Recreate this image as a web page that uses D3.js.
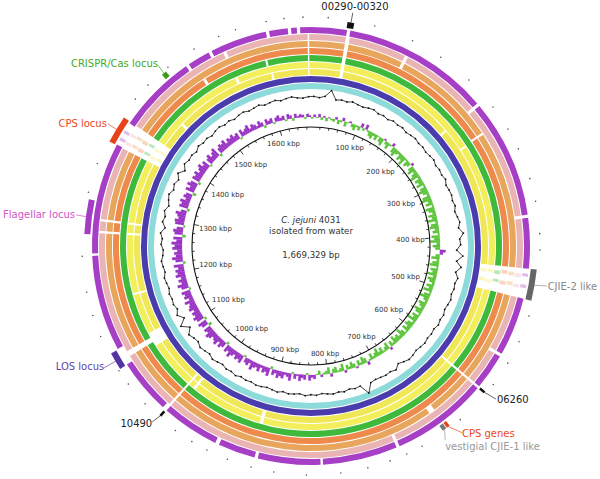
<!DOCTYPE html>
<html><head><meta charset="utf-8">
<script src="https://cdn.jsdelivr.net/npm/d3@7"></script>
<style>
body{margin:0;background:#fff}
svg{display:block}
text{font-family:"DejaVu Sans",sans-serif}
</style>
</head><body>
<svg id="chart" width="600" height="479"></svg>
<script>
// ---------------- DATA ----------------
const genomeLength = 1669329;
const genomeName = "C. jejuni 4031";
const subtitle = "isolated from water";
const sizeLabel = "1,669,329 bp";
const tickStepKbp = 100;
const minorTickStepKbp = 20;
const tickLabels = ["100 kbp","200 kbp","300 kbp","400 kbp","500 kbp","600 kbp","700 kbp","800 kbp","900 kbp","1000 kbp","1100 kbp","1200 kbp","1300 kbp","1400 kbp","1500 kbp","1600 kbp"];

// BLAST rings, inner -> outer
const ringColors = ["#8cdada","#4b3cae","#efe756","#f3ef5c","#3fb93b","#ef8a4d","#e8a65d","#eab4b4","#a63fc6"];
// regions without hits (kbp)
const ringGaps = [
  [],
  [],
  [[44,49],[228,231],[445,482],[602,605],[905,910],[1015,1019],[1026,1029],[1100,1121],[1180,1183],[1268,1271],[1283,1286],[1379,1412],[1451,1455],[1609,1612],[1665,1667]],
  [[44,49],[264,267],[445,482],[602,605],[905,910],[1015,1019],[1026,1029],[1100,1121],[1180,1183],[1268,1271],[1283,1286],[1379,1412],[1556,1560],[1665,1667]],
  [[44,49],[445,482],[602,605],[1026,1029],[1107,1114],[1379,1412],[1605,1608],[1665,1667]],
  [[44,49],[262,265],[445,482],[602,605],[1026,1029],[1107,1114],[1268,1271],[1283,1286],[1379,1412],[1516,1520],[1665,1667]],
  [[44,49],[122,126],[262,265],[445,482],[602,605],[663,671],[1026,1029],[1107,1114],[1268,1271],[1283,1286],[1379,1412],[1665,1667]],
  [[44,49],[122,126],[229,233],[379,383],[445,482],[554,558],[602,605],[724,728],[1026,1029],[1107,1114],[1268,1271],[1283,1286],[1379,1412],[1556,1560],[1665,1667]],
  [[44,48],[229,233],[379,383],[445,482],[554,558],[602,605],[724,728],[820,823],[900,904],[950,955],[1026,1032],[1100,1122],[1240,1243],[1380,1410],[1508,1512],[1540,1544],[1614,1618],[1641,1645],[1652,1656]]
];
// weak hits inside gaps (kbp)
const ringFaint = [
  [],[],
  [[451,456],[464,470],[1386,1390],[1398,1402]],
  [[451,456],[466,471],[1385,1389],[1397,1401]],
  [[452,457],[464,468],[1386,1390],[1399,1403]],
  [[450,455],[465,470],[1271,1283],[1385,1390],[1397,1402]],
  [[451,456],[464,469],[1271,1283],[1386,1390],[1398,1402]],
  [[452,457],[466,470],[1271,1283],[1385,1389],[1397,1401]],
  [[451,455],[465,469],[1386,1390],[1396,1400]]
];

// GC content (%) in 10 kbp windows
const gcContent = [
 31.0,30.2,31.5,36.5,29.8,30.6,30.1,31.2,30.4,29.9,
 30.8,31.3,30.0,30.6,29.7,31.0,30.3,30.9,29.8,30.5,
 31.1,30.2,30.7,29.9,30.6,31.2,30.0,30.8,30.3,31.4,
 29.8,30.5,30.9,30.1,31.0,29.6,30.7,31.8,30.2,33.5,
 30.4,31.0,28.0,33.0,28.5,32.5,29.0,31.5,30.2,30.8,
 30.0,31.1,30.4,29.7,30.9,30.3,31.2,29.9,30.6,30.1,
 31.0,30.4,29.8,30.7,31.3,30.0,28.5,31.5,30.2,30.8,
 30.3,29.9,30.6,37.5,30.1,30.7,29.8,30.9,30.2,31.0,
 30.4,29.7,30.8,30.3,31.1,29.9,30.5,30.9,30.0,31.2,
 30.4,29.8,30.6,31.0,30.1,30.7,29.9,31.3,30.2,30.8,
 29.6,30.5,31.4,29.8,30.6,31.5,29.7,30.4,32.0,28.0,
 33.5,28.0,31.8,29.5,30.9,30.2,31.0,29.8,30.6,31.3,
 29.9,30.7,31.5,30.1,29.6,31.2,30.4,32.0,29.0,31.6,
 30.3,31.8,29.5,31.0,32.2,30.0,31.4,29.7,32.5,28.8,
 31.9,30.6,31.2,29.9,31.7,30.5,31.1,29.8,30.9,31.5,
 30.2,31.0,29.7,30.8,31.3,30.1,30.7,31.4,29.9,30.6,
 31.2,30.0,30.9,31.5,30.3,29.8,30.8
];
const gcWindow = 10000;
const gcMean = 30.5;

// GC skew in 5 kbp windows
const gcSkew = [
 0.02,-0.03,0.01,-0.04,0.03,-0.02,0.04,-0.01,0.02,0.03,
 -0.03,0.05,0.02,-0.04,0.06,0.01,-0.02,0.04,0.07,0.02,
 0.05,-0.05,0.03,-0.06,0.02,0.06,0.08,0.03,0.07,0.01,
 0.06,0.09,-0.02,0.04,0.08,0.02,-0.04,0.07,0.10,0.05,
 0.03,0.09,0.06,0.11,0.02,0.08,0.05,-0.03,0.07,0.10,
 0.04,0.08,0.12,0.03,0.09,0.06,0.10,0.02,0.08,0.11,
 0.07,0.03,0.10,0.12,0.05,0.09,0.02,0.11,0.08,0.04,
 0.10,0.06,0.12,0.03,0.09,0.11,0.05,0.08,0.02,0.10,
 0.07,0.12,0.04,0.09,0.06,-0.07,-0.04,0.05,0.10,0.03,
 0.08,0.11,0.02,0.09,0.06,0.12,0.04,0.10,0.07,0.03,
 0.09,0.05,0.11,0.02,0.08,0.12,0.06,0.03,0.10,0.07,
 0.04,0.11,0.08,0.02,0.09,0.06,0.12,0.03,0.08,0.10,
 0.05,0.09,0.02,0.07,0.11,0.04,0.08,0.06,0.10,0.03,
 0.07,-0.03,0.09,0.05,0.02,0.08,0.04,0.10,0.06,0.03,
 0.08,0.02,-0.04,0.06,0.09,0.03,0.07,-0.02,0.05,0.08,
 0.03,0.06,-0.03,0.09,0.04,0.02,0.07,0.05,-0.04,0.08,
 0.04,0.02,-0.03,0.05,0.01,-0.05,-0.03,-0.07,0.02,-0.06,
 -0.04,-0.08,-0.02,-0.06,0.02,-0.09,-0.05,-0.03,-0.08,-0.06,
 -0.09,-0.04,-0.07,0.03,-0.10,-0.06,-0.08,-0.03,-0.09,-0.05,
 -0.07,-0.11,-0.04,-0.08,-0.06,0.02,-0.10,-0.07,-0.09,-0.05,
 -0.08,-0.12,-0.06,-0.09,0.03,-0.07,-0.10,-0.05,-0.11,-0.08,
 -0.06,-0.10,-0.12,-0.07,-0.09,0.04,-0.08,-0.11,0.03,-0.09,
 -0.12,-0.08,-0.10,-0.06,-0.11,-0.09,-0.07,-0.12,-0.05,-0.10,
 -0.08,-0.11,0.02,-0.09,-0.13,-0.07,-0.10,-0.06,-0.12,-0.09,
 -0.11,-0.07,-0.12,0.03,-0.09,-0.13,-0.08,-0.10,-0.06,-0.12,
 -0.09,-0.13,-0.07,-0.11,0.04,-0.10,-0.12,-0.08,0.02,-0.11,
 -0.12,-0.08,-0.10,-0.13,-0.07,0.03,-0.11,-0.09,-0.12,-0.06,
 -0.10,-0.08,0.04,-0.11,-0.07,-0.12,-0.09,0.03,-0.10,-0.08,
 -0.11,-0.06,-0.09,-0.12,-0.07,-0.10,0.02,-0.08,-0.11,-0.06,
 -0.09,-0.12,0.03,-0.07,-0.10,-0.08,-0.11,-0.05,-0.09,-0.07,
 -0.10,-0.06,-0.08,0.02,-0.09,-0.05,-0.07,-0.10,-0.04,-0.08,
 -0.06,-0.03,-0.08,-0.05,0.03,-0.07,-0.04,-0.06,0.02,-0.05,
 -0.07,-0.03,-0.05,0.02,-0.06,-0.04,0.03,-0.05,-0.02,-0.04,
 -0.03,0.02,-0.04,-0.02
];
const skewWindow = 5000;

// small outer marks (kbp)
const outerMarks = [20,75,122,160,202,244,275,301,338,365,403,422,500,532,560,590,646,700,720,741,768,800,840,878,905,934,960,980,1003,1050,1080,1099,1144,1170,1198,1240,1315,1350,1437,1459,1490,1527,1559,1580,1617,1638,1660];

// annotated features (kbp)
const featureNames = ["00290-00320","CRISPR/Cas locus","CPS locus","Flagellar locus","LOS locus","10490","06260","CJIE-2 like","CPS genes","vestigial CJIE-1 like"];
const featureStart = [43,1479,1379,1266,1100,1026,602,445,660,665];
const featureEnd   = [51,1485,1412,1307,1121,1029,605,482,664,670];

// ---------------- STYLE / LAYOUT ----------------
const featureStyle = {
  "00290-00320":          {box:"#111", text:"#222", at:47.2, r2:237, anchor:"middle", dx:2, dy:-3},
  "CRISPR/Cas locus":     {box:"#3a9a1a", text:"#46a828", at:1482.8, r2:237, anchor:"end", dx:0, dy:2},
  "CPS locus":            {box:"#e8421c", text:"#ea4a22", at:1395.8, r2:237, anchor:"end", dx:-1, dy:3},
  "Flagellar locus":      {box:"#a43cc4", text:"#d055c8", at:1287, r2:237, anchor:"end", dx:-1, dy:3},
  "LOS locus":            {box:"#5533a6", text:"#6644b0", at:1110.5, r2:240, anchor:"end", dx:0, dy:2},
  "10490":                {box:"#111", text:"#222", at:1029.7, r2:237, anchor:"end", dx:0, dy:5},
  "06260":                {box:"#111", text:"#222", at:601, r2:240, anchor:"start", dx:1, dy:4},
  "CJIE-2 like":          {box:"#666", text:"#8a8a8a", at:462, r2:239, anchor:"start", dx:1, dy:4},
  "CPS genes":            {box:"#e8421c", text:"#ea4a22", at:654, r2:240, anchor:"start", dx:0, dy:4},
  "vestigial CJIE-1 like":{box:"#777", text:"#999", at:674, r2:236, anchor:"start", dx:0, dy:10}
};

const cx = 311, cy = 246;
const ringInner0 = 157, ringStep = 7, ringWidth = 6;
const backboneR = 119;
const gcR = 149, gcK = 1.3;
const skewR = 129, skewK = 80;
const featR1 = 221, featR2 = 227;

const svg = d3.select("#chart");
const g = svg.append("g").attr("transform", `translate(${cx},${cy})`);
const ang = d3.scaleLinear().domain([0, genomeLength]).range([0, 2 * Math.PI]);
const kb = 1000;

function complement(gaps) {
  const s = gaps.map(d => [d[0]*kb, Math.min(d[1]*kb, genomeLength)]).sort((a,b)=>a[0]-b[0]);
  const out = []; let p = 0;
  s.forEach(([a,b]) => { if (a > p) out.push([p,a]); p = Math.max(p,b); });
  if (p < genomeLength) out.push([p, genomeLength]);
  return out;
}

// rings
ringColors.forEach((col, i) => {
  const r0 = ringInner0 + i * ringStep, r1 = r0 + ringWidth;
  const arc = d3.arc().innerRadius(r0).outerRadius(r1);
  const segs = complement(ringGaps[i]);
  g.append("g").selectAll("path").data(segs).join("path")
    .attr("d", d => arc({startAngle: ang(d[0]), endAngle: ang(d[1])}))
    .attr("fill", col);
  g.append("g").selectAll("path").data(ringFaint[i]).join("path")
    .attr("d", d => arc({startAngle: ang(d[0]*kb), endAngle: ang(d[1]*kb)}))
    .attr("fill", col).attr("opacity", 0.35);
});

// GC content line
const gcPts = gcContent.map((v, i) => ({pos: (i + 0.5) * gcWindow, v}));
const gcRad = d => gcR + (d.v - gcMean) * gcK;
const gcLine = d3.lineRadial()
  .angle(d => ang(d.pos))
  .radius(gcRad)
  .curve(d3.curveLinearClosed);
g.append("path").attr("d", gcLine(gcPts)).attr("fill", "none").attr("stroke", "#111").attr("stroke-width", 0.8);
g.append("g").selectAll("circle").data(gcPts).join("circle")
  .attr("cx", d => gcRad(d) * Math.sin(ang(d.pos)))
  .attr("cy", d => -gcRad(d) * Math.cos(ang(d.pos)))
  .attr("r", 0.9).attr("fill", "#111");

// GC skew bars
const skBars = gcSkew.map((v, i) => ({s: i * skewWindow, e: Math.min((i + 1) * skewWindow, genomeLength), v}));
g.append("g").selectAll("path").data(skBars).join("path")
  .attr("d", d => d3.arc()({
    startAngle: ang(d.s), endAngle: ang(d.e),
    innerRadius: skewR, outerRadius: skewR - d.v * skewK
  }))
  .attr("fill", d => d.v >= 0 ? "#5cc43a" : "#9a34c4")
  .attr("stroke", d => d.v >= 0 ? "#5cc43a" : "#9a34c4")
  .attr("stroke-width", 0.2);

// backbone
g.append("circle").attr("r", backboneR).attr("fill", "none").attr("stroke", "#111").attr("stroke-width", 1.1);
const minorTicks = d3.range(minorTickStepKbp * kb, genomeLength, minorTickStepKbp * kb);
const tickLen = d => (d % (tickStepKbp * kb) === 0) ? 5 : 2.5;
g.append("g").selectAll("line").data(minorTicks).join("line")
  .attr("x1", d => backboneR * Math.sin(ang(d)))
  .attr("y1", d => -backboneR * Math.cos(ang(d)))
  .attr("x2", d => (backboneR - tickLen(d)) * Math.sin(ang(d)))
  .attr("y2", d => -(backboneR - tickLen(d)) * Math.cos(ang(d)))
  .attr("stroke", "#111").attr("stroke-width", 0.8);

const tl = g.append("g").selectAll("text").data(tickLabels).join("text")
  .attr("font-size", 7).attr("fill", "#333").attr("text-anchor", "middle").attr("dy", "0.35em")
  .text(d => d);
tl.each(function(d, i) {
  const pos = (i + 1) * tickStepKbp * kb;
  const a = ang(pos);
  const w = this.getComputedTextLength(), h = 7;
  const proj = Math.abs(Math.sin(a)) * w / 2 + Math.abs(Math.cos(a)) * h / 2;
  const r = 114 - proj;
  d3.select(this).attr("x", r * Math.sin(a)).attr("y", -r * Math.cos(a));
});

// outer marks
g.append("g").selectAll("circle").data(outerMarks).join("circle")
  .attr("cx", d => 229 * Math.sin(ang(d * kb)))
  .attr("cy", d => -229 * Math.cos(ang(d * kb)))
  .attr("r", 0.8).attr("fill", "#555");

// features
const feats = featureNames.map((n, i) => ({name: n, s: featureStart[i] * kb, e: featureEnd[i] * kb}));
const fArc = d3.arc().innerRadius(featR1).outerRadius(featR2);
g.append("g").selectAll("path").data(feats).join("path")
  .attr("d", d => fArc({startAngle: ang(d.s), endAngle: ang(d.e)}))
  .attr("fill", d => featureStyle[d.name].box);
feats.forEach(d => {
  const st = featureStyle[d.name];
  const am = ang((d.s + d.e) / 2), al = ang(st.at * kb);
  const x1 = featR2 * Math.sin(am), y1 = -featR2 * Math.cos(am);
  const x2 = st.r2 * Math.sin(al), y2 = -st.r2 * Math.cos(al);
  g.append("line").attr("x1", x1).attr("y1", y1).attr("x2", x2).attr("y2", y2)
    .attr("stroke", st.text).attr("stroke-width", 0.7);
  g.append("text").attr("x", x2 + st.dx).attr("y", y2 + st.dy)
    .attr("text-anchor", st.anchor).attr("font-size", 10).attr("fill", st.text)
    .text(d.name);
});

// center text
const ct = g.append("text").attr("text-anchor", "middle").attr("font-size", 8.6).attr("fill", "#333").attr("y", -23);
ct.append("tspan").attr("font-style", "italic").text(genomeName.split(" ").slice(0,2).join(" "));
ct.append("tspan").text(" " + genomeName.split(" ").slice(2).join(" "));
g.append("text").attr("text-anchor", "middle").attr("font-size", 8.6).attr("fill", "#333").attr("y", -12).text(subtitle);
g.append("text").attr("text-anchor", "middle").attr("font-size", 8.6).attr("fill", "#333").attr("y", 12).text(sizeLabel);
</script>
</body></html>
